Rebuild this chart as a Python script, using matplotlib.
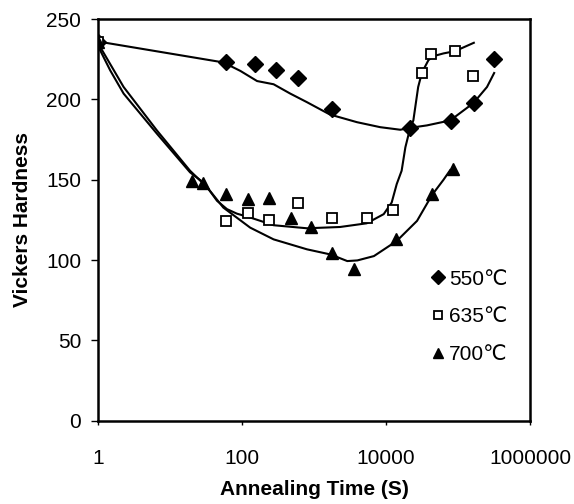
import matplotlib
matplotlib.use("Agg")
import matplotlib.pyplot as plt
from matplotlib.ticker import FixedLocator, FixedFormatter, NullLocator

plt.rcParams['font.family'] = ['Liberation Sans', 'DejaVu Sans']

# measured points (annealing time in s, hardness HV)
t_550 = [1, 60, 150, 300, 600, 1800, 21600, 79000, 168000, 320000]
hv_550 = [236, 223, 222, 218, 213, 194, 182, 186.5, 197.5, 225]

t_635 = [1, 60, 120, 240, 600, 1800, 5400, 12600, 32000, 42500, 91000, 164000]
hv_635 = [236, 124.5, 129, 125, 135.5, 126, 126.5, 131, 216.5, 228.5, 230, 214.5]

t_700 = [1, 20, 29, 60, 120, 240, 480, 900, 1800, 3600, 14000, 43000, 84000]
hv_700 = [236, 149, 148, 141, 138, 138.5, 126, 120.5, 104.5, 94.5, 113, 141, 156.5]

# hand-drawn trend curves
fit_t_550 = [1, 55, 95, 162, 275, 468, 795, 1660, 3960, 8320, 15800, 21700,
             37000, 78000, 164000, 253000, 318000]
fit_hv_550 = [236, 223, 217.7, 211.4, 209.4, 203.6, 198.3, 190.6, 185.8, 182.7,
              181.1, 182.3, 183.8, 186.9, 197.7, 207.7, 216.4]

fit_t_635 = [1, 1.07, 2.27, 6.6, 19, 33, 45, 62, 85, 130, 275, 800, 2300, 5400,
             9300, 12000, 14100, 16500, 18600, 21700, 24000, 28000, 31600, 38900,
             45700, 63000, 91000, 166000]
fit_hv_635 = [236, 232.7, 207.7, 180.6, 155.6, 145.2, 136.9, 131.7, 128.9, 126.5,
              121.7, 119.8, 120.6, 122.9, 128.6, 135.8, 147.3, 155.6, 170.2, 182.3,
              186.9, 207.7, 216.7, 224.4, 226.9, 228.6, 230, 235.2]

fit_t_700 = [1, 1.07, 1.48, 2.27, 6.6, 19, 29, 55, 130, 275, 800, 1700, 2900,
             4000, 6800, 14100, 27000, 43600, 63000, 78000]
fit_hv_700 = [236, 230.6, 218, 203.6, 178.6, 154.6, 148.3, 132.7, 120.2, 112.9,
              106.7, 103.5, 99.4, 99.8, 102.5, 111.9, 124.4, 140.5, 150, 156]

xticks = [1, 100, 10000, 1000000]
xtick_labels = ['1', '100', '10000', '1000000']
yticks = [0, 50, 100, 150, 200, 250]

fig = plt.figure(figsize=(5.74, 5.04), dpi=100)
ax = fig.add_axes([0.1707, 0.165, 0.7526, 0.7973])

lw = 1.5
ax.plot(fit_t_550, fit_hv_550, color='black', lw=lw)
ax.plot(fit_t_635, fit_hv_635, color='black', lw=lw)
ax.plot(fit_t_700, fit_hv_700, color='black', lw=lw)

ax.plot(t_550, hv_550, 'D', color='black', ms=8.5, ls='none', label='550℃')
ax.plot(t_635, hv_635, 's', mfc='white', mec='black', mew=1.3, ms=7.5,
        ls='none', label='635℃')
ax.plot(t_700, hv_700, '^', color='black', ms=8.5, ls='none', label='700℃')

ax.set_xscale('log')
ax.set_xlim(1, 1000000)
ax.set_ylim(0, 250)
ax.xaxis.set_major_locator(FixedLocator(xticks))
ax.xaxis.set_major_formatter(FixedFormatter(xtick_labels))
ax.xaxis.set_minor_locator(NullLocator())
ax.set_yticks(yticks)

for s in ax.spines.values():
    s.set_linewidth(1.8)
ax.tick_params(axis='y', direction='out', length=5, width=1, labelsize=15, pad=7)
ax.tick_params(axis='x', direction='out', length=3, width=1, labelsize=15, pad=17)

ax.set_xlabel('Annealing Time (S)', fontsize=15, fontweight='bold', labelpad=9)
ax.set_ylabel('Vickers Hardness', fontsize=15, fontweight='bold', labelpad=10)

ax.legend(loc='upper left', bbox_to_anchor=(0.73, 0.423), frameon=False,
          fontsize=15, handlelength=0.6, handletextpad=0.2, labelspacing=0.9,
          markerscale=0.8)

fig.savefig('out.png', dpi=100)
